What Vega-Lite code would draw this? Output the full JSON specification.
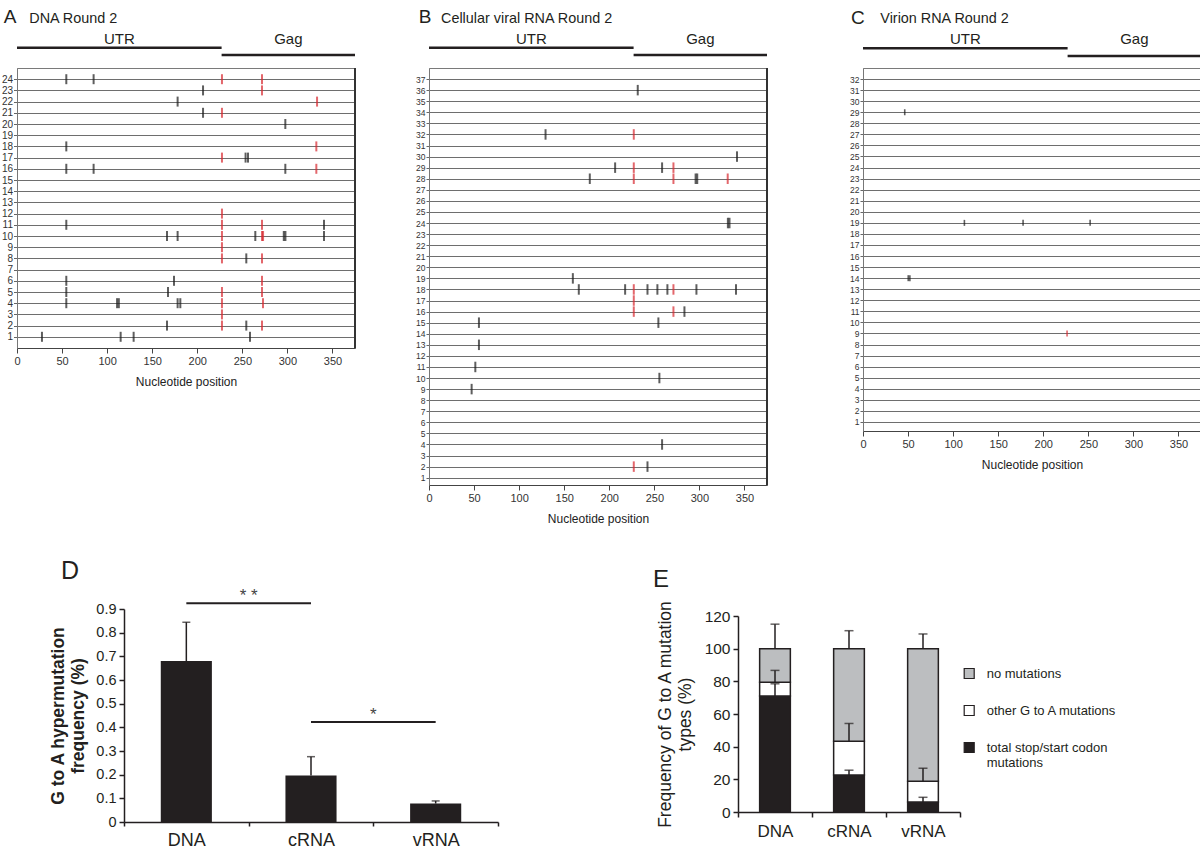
{
  "$schema": "https://vega.github.io/schema/vega-lite/v6.json",
  "autosize": {"type": "pad"},
  "padding": {"left": 0, "top": 7, "right": 0, "bottom": 0},
  "background": "white",
  "config": {
    "font": "Liberation Sans",
    "view": {"stroke": null},
    "title": {"font": "Liberation Sans", "fontWeight": "normal", "color": "#231f20"},
    "axis": {"labelFont": "Liberation Sans", "titleFont": "Liberation Sans", "labelOverlap": false, "labelFlush": false}
  },
  "datasets": {
    "mutA": [
      {"sequence": 24, "position": 54.7, "kind": "other"}, {"sequence": 24, "position": 85, "kind": "other"}, {"sequence": 24, "position": 227.4, "kind": "codon"}, {"sequence": 24, "position": 271.8, "kind": "codon"},
      {"sequence": 23, "position": 206.4, "kind": "other"}, {"sequence": 23, "position": 271.8, "kind": "codon"},
      {"sequence": 22, "position": 178.2, "kind": "other"}, {"sequence": 22, "position": 332.9, "kind": "codon"},
      {"sequence": 21, "position": 206.4, "kind": "other"}, {"sequence": 21, "position": 227.4, "kind": "codon"},
      {"sequence": 20, "position": 297.7, "kind": "other"},
      {"sequence": 18, "position": 54.7, "kind": "other"}, {"sequence": 18, "position": 332.1, "kind": "codon"},
      {"sequence": 17, "position": 227.4, "kind": "codon"}, {"sequence": 17, "position": 253.6, "kind": "other"}, {"sequence": 17, "position": 256.3, "kind": "other"},
      {"sequence": 16, "position": 54.7, "kind": "other"}, {"sequence": 16, "position": 85, "kind": "other"}, {"sequence": 16, "position": 297.7, "kind": "other"}, {"sequence": 16, "position": 332.1, "kind": "codon"},
      {"sequence": 12, "position": 227.4, "kind": "codon"},
      {"sequence": 11, "position": 54.7, "kind": "other"}, {"sequence": 11, "position": 227.4, "kind": "codon"}, {"sequence": 11, "position": 271.8, "kind": "codon"}, {"sequence": 11, "position": 340.6, "kind": "other"},
      {"sequence": 10, "position": 166.4, "kind": "other"}, {"sequence": 10, "position": 178.2, "kind": "other"}, {"sequence": 10, "position": 227.4, "kind": "codon"}, {"sequence": 10, "position": 264.4, "kind": "other"}, {"sequence": 10, "position": 271.8, "kind": "codon"}, {"sequence": 10, "position": 273, "kind": "codon"}, {"sequence": 10, "position": 296, "kind": "other"}, {"sequence": 10, "position": 297.8, "kind": "other"}, {"sequence": 10, "position": 340.6, "kind": "other"},
      {"sequence": 9, "position": 227.4, "kind": "codon"},
      {"sequence": 8, "position": 227.4, "kind": "codon"}, {"sequence": 8, "position": 254.4, "kind": "other"}, {"sequence": 8, "position": 271.8, "kind": "codon"},
      {"sequence": 6, "position": 54.7, "kind": "other"}, {"sequence": 6, "position": 174.2, "kind": "other"}, {"sequence": 6, "position": 271.8, "kind": "codon"},
      {"sequence": 5, "position": 54.7, "kind": "other"}, {"sequence": 5, "position": 167.5, "kind": "other"}, {"sequence": 5, "position": 227.4, "kind": "codon"}, {"sequence": 5, "position": 271.8, "kind": "codon"},
      {"sequence": 4, "position": 54.7, "kind": "other"}, {"sequence": 4, "position": 111, "kind": "other"}, {"sequence": 4, "position": 113, "kind": "other"}, {"sequence": 4, "position": 178.2, "kind": "other"}, {"sequence": 4, "position": 181.2, "kind": "other"}, {"sequence": 4, "position": 227.4, "kind": "codon"}, {"sequence": 4, "position": 272.9, "kind": "codon"},
      {"sequence": 3, "position": 227.4, "kind": "codon"},
      {"sequence": 2, "position": 166.4, "kind": "other"}, {"sequence": 2, "position": 227.4, "kind": "codon"}, {"sequence": 2, "position": 254.4, "kind": "other"}, {"sequence": 2, "position": 271.8, "kind": "codon"},
      {"sequence": 1, "position": 27.7, "kind": "other"}, {"sequence": 1, "position": 115, "kind": "other"}, {"sequence": 1, "position": 129.4, "kind": "other"}, {"sequence": 1, "position": 258.5, "kind": "other"}
    ],
    "mutB": [
      {"sequence": 36, "position": 231.6, "kind": "other"},
      {"sequence": 32, "position": 129.3, "kind": "other"}, {"sequence": 32, "position": 227.2, "kind": "codon"},
      {"sequence": 30, "position": 341.7, "kind": "other"},
      {"sequence": 29, "position": 206.5, "kind": "other"}, {"sequence": 29, "position": 227.2, "kind": "codon"}, {"sequence": 29, "position": 258.6, "kind": "other"}, {"sequence": 29, "position": 271.2, "kind": "codon"},
      {"sequence": 28, "position": 178.4, "kind": "other"}, {"sequence": 28, "position": 227.2, "kind": "codon"}, {"sequence": 28, "position": 271.2, "kind": "codon"}, {"sequence": 28, "position": 295.8, "kind": "other"}, {"sequence": 28, "position": 297.6, "kind": "other"}, {"sequence": 28, "position": 331.4, "kind": "codon"},
      {"sequence": 24, "position": 331.6, "kind": "other"}, {"sequence": 24, "position": 333.4, "kind": "other"},
      {"sequence": 19, "position": 159.6, "kind": "other"},
      {"sequence": 18, "position": 166.2, "kind": "other"}, {"sequence": 18, "position": 217.6, "kind": "other"}, {"sequence": 18, "position": 227.2, "kind": "codon"}, {"sequence": 18, "position": 242.4, "kind": "other"}, {"sequence": 18, "position": 253.4, "kind": "other"}, {"sequence": 18, "position": 264.5, "kind": "other"}, {"sequence": 18, "position": 271.2, "kind": "codon"}, {"sequence": 18, "position": 296.7, "kind": "other"}, {"sequence": 18, "position": 340.6, "kind": "other"},
      {"sequence": 17, "position": 227.2, "kind": "codon"},
      {"sequence": 16, "position": 227.2, "kind": "codon"}, {"sequence": 16, "position": 271.2, "kind": "codon"}, {"sequence": 16, "position": 283.4, "kind": "other"},
      {"sequence": 15, "position": 55.4, "kind": "other"}, {"sequence": 15, "position": 254.5, "kind": "other"},
      {"sequence": 13, "position": 55.4, "kind": "other"},
      {"sequence": 11, "position": 51.4, "kind": "other"},
      {"sequence": 10, "position": 255.6, "kind": "other"},
      {"sequence": 9, "position": 47.3, "kind": "other"},
      {"sequence": 4, "position": 258.6, "kind": "other"},
      {"sequence": 2, "position": 227.2, "kind": "codon"}, {"sequence": 2, "position": 242.4, "kind": "other"}
    ],
    "mutC": [
      {"sequence": 29, "position": 46.3, "kind": "other"},
      {"sequence": 19, "position": 112.5, "kind": "other"}, {"sequence": 19, "position": 177.6, "kind": "other"}, {"sequence": 19, "position": 252, "kind": "other"},
      {"sequence": 14, "position": 50.2, "kind": "other"}, {"sequence": 14, "position": 52, "kind": "other"},
      {"sequence": 9, "position": 226.4, "kind": "codon"}
    ],
    "regions": [
      {"region": "UTR", "start": 0, "end": 227},
      {"region": "Gag", "start": 227, "end": 375}
    ],
    "hyper": [
      {"sample": "DNA", "frequency": 0.68, "upper": 0.844},
      {"sample": "cRNA", "frequency": 0.197, "upper": 0.276},
      {"sample": "vRNA", "frequency": 0.078, "upper": 0.089}
    ],
    "sig": [
      {"from": "DNA", "to": "cRNA", "level": 0.924, "label": "* *"},
      {"from": "cRNA", "to": "vRNA", "level": 0.4225, "label": "*"}
    ],
    "types": [
      {"sample": "DNA", "type": "total stop/start codon mutations", "low": 0, "high": 71, "errHigh": 78.5},
      {"sample": "DNA", "type": "other G to A mutations", "low": 71, "high": 79.5, "errHigh": 86.7},
      {"sample": "DNA", "type": "no mutations", "low": 79.5, "high": 100, "errHigh": 115},
      {"sample": "cRNA", "type": "total stop/start codon mutations", "low": 0, "high": 22.7, "errHigh": 25.6},
      {"sample": "cRNA", "type": "other G to A mutations", "low": 22.7, "high": 43.3, "errHigh": 54.2},
      {"sample": "cRNA", "type": "no mutations", "low": 43.3, "high": 100, "errHigh": 111},
      {"sample": "vRNA", "type": "total stop/start codon mutations", "low": 0, "high": 6.1, "errHigh": 9},
      {"sample": "vRNA", "type": "other G to A mutations", "low": 6.1, "high": 18.8, "errHigh": 26.8},
      {"sample": "vRNA", "type": "no mutations", "low": 18.8, "high": 100, "errHigh": 109}
    ]
  },
  "columns": 3,
  "spacing": {"row": 124, "column": 74},
  "align": "each",
  "bounds": "flush",
  "concat": [
    {
      "width": 338, "height": 280,
      "view": {"stroke": "#7a7a7a", "strokeWidth": 1},
      "layer": [
        {
          "data": {"name": "mutA"},
          "mark": {"type": "tick", "orient": "vertical", "size": 10, "thickness": 2},
          "encoding": {
            "x": {"field": "position", "type": "quantitative", "title": "Nucleotide position",
              "scale": {"domain": [0, 375], "nice": false, "zero": false},
              "axis": {"values": [0, 50, 100, 150, 200, 250, 300, 350], "format": "d", "tickCount": 20, "tickSize": 5, "labelFontSize": 11, "labelColor": "#333333", "titleFontSize": 12, "titleFontWeight": "normal", "titleColor": "#222222", "titlePadding": 10, "domainColor": "#444444", "tickColor": "#444444", "grid": false}},
            "y": {"field": "sequence", "type": "quantitative", "title": null,
              "scale": {"domain": [0, 25], "nice": false, "zero": false},
              "axis": {"values": [1,2,3,4,5,6,7,8,9,10,11,12,13,14,15,16,17,18,19,20,21,22,23,24], "format": "d", "tickCount": 60, "grid": true, "gridColor": "#6e6e6e", "gridWidth": 1, "tickSize": 3.5, "labelPadding": 1, "labelFontSize": 10, "labelColor": "#333333", "domainColor": "#777777", "tickColor": "#666666"}},
            "color": {"field": "kind", "type": "nominal", "scale": {"domain": ["other", "codon"], "range": ["#1a1a1a", "#d7262d"]}, "legend": null}
          }
        },
        {
          "data": {"values": [{}]},
          "mark": {"type": "rule", "color": "#333333", "strokeWidth": 2},
          "encoding": {"x": {"datum": 375}}
        },
        {
          "data": {"name": "regions"},
          "transform": [{"filter": "datum.region == 'UTR'"}],
          "mark": {"type": "rule", "color": "#231f20", "strokeWidth": 2.5},
          "encoding": {"x": {"field": "start", "type": "quantitative", "title": "Nucleotide position"}, "x2": {"field": "end"}, "y": {"datum": 26.81}}
        },
        {
          "data": {"name": "regions"},
          "transform": [{"filter": "datum.region == 'Gag'"}],
          "mark": {"type": "rule", "color": "#231f20", "strokeWidth": 2.5},
          "encoding": {"x": {"field": "start", "type": "quantitative", "title": "Nucleotide position"}, "x2": {"field": "end"}, "y": {"datum": 26.16}}
        },
        {
          "data": {"name": "regions"},
          "transform": [{"fold": ["start", "end"]}, {"aggregate": [{"op": "mean", "field": "value", "as": "mid"}], "groupby": ["region"]}],
          "mark": {"type": "text", "fontSize": 15, "baseline": "alphabetic", "color": "#231f20"},
          "encoding": {"x": {"field": "mid", "type": "quantitative", "title": "Nucleotide position"}, "y": {"datum": 27.12}, "text": {"field": "region"}}
        },
        {
          "data": {"values": [{"letter": "A", "name": "DNA Round 2"}]},
          "mark": {"type": "text", "fontSize": 19, "align": "left", "baseline": "alphabetic", "color": "#231f20"},
          "encoding": {"x": {"datum": -14.8}, "y": {"datum": 28.99}, "text": {"field": "letter"}}
        },
        {
          "data": {"values": [{"letter": "A", "name": "DNA Round 2"}]},
          "mark": {"type": "text", "fontSize": 14.4, "align": "left", "baseline": "alphabetic", "color": "#231f20"},
          "encoding": {"x": {"datum": 13.6}, "y": {"datum": 29.04}, "text": {"field": "name"}}
        }
      ]
    },
    {
      "width": 338, "height": 417,
      "view": {"stroke": "#7a7a7a", "strokeWidth": 1},
      "layer": [
        {
          "data": {"name": "mutB"},
          "mark": {"type": "tick", "orient": "vertical", "size": 10.5, "thickness": 2},
          "encoding": {
            "x": {"field": "position", "type": "quantitative", "title": "Nucleotide position",
              "scale": {"domain": [0, 375], "nice": false, "zero": false},
              "axis": {"values": [0, 50, 100, 150, 200, 250, 300, 350], "format": "d", "tickCount": 20, "tickSize": 5, "labelFontSize": 11, "labelColor": "#333333", "titleFontSize": 12, "titleFontWeight": "normal", "titleColor": "#222222", "titlePadding": 10, "domainColor": "#444444", "tickColor": "#444444", "grid": false}},
            "y": {"field": "sequence", "type": "quantitative", "title": null,
              "scale": {"domain": [0.34, 38], "nice": false, "zero": false},
              "axis": {"values": [1,2,3,4,5,6,7,8,9,10,11,12,13,14,15,16,17,18,19,20,21,22,23,24,25,26,27,28,29,30,31,32,33,34,35,36,37], "format": "d", "tickCount": 80, "grid": true, "gridColor": "#6e6e6e", "gridWidth": 1, "tickSize": 3, "labelPadding": 1, "labelFontSize": 8.5, "labelColor": "#333333", "domainColor": "#777777", "tickColor": "#666666"}},
            "color": {"field": "kind", "type": "nominal", "scale": {"domain": ["other", "codon"], "range": ["#1a1a1a", "#d7262d"]}, "legend": null}
          }
        },
        {
          "data": {"values": [{}]},
          "mark": {"type": "rule", "color": "#333333", "strokeWidth": 2},
          "encoding": {"x": {"datum": 375}}
        },
        {
          "data": {"name": "regions"},
          "transform": [{"filter": "datum.region == 'UTR'"}],
          "mark": {"type": "rule", "color": "#231f20", "strokeWidth": 2.5},
          "encoding": {"x": {"field": "start", "type": "quantitative", "title": "Nucleotide position"}, "x2": {"field": "end"}, "y": {"datum": 39.83}}
        },
        {
          "data": {"name": "regions"},
          "transform": [{"filter": "datum.region == 'Gag'"}],
          "mark": {"type": "rule", "color": "#231f20", "strokeWidth": 2.5},
          "encoding": {"x": {"field": "start", "type": "quantitative", "title": "Nucleotide position"}, "x2": {"field": "end"}, "y": {"datum": 39.17}}
        },
        {
          "data": {"name": "regions"},
          "transform": [{"fold": ["start", "end"]}, {"aggregate": [{"op": "mean", "field": "value", "as": "mid"}], "groupby": ["region"]}],
          "mark": {"type": "text", "fontSize": 15, "baseline": "alphabetic", "color": "#231f20"},
          "encoding": {"x": {"field": "mid", "type": "quantitative", "title": "Nucleotide position"}, "y": {"datum": 40.14}, "text": {"field": "region"}}
        },
        {
          "data": {"values": [{"letter": "B", "name": "Cellular viral RNA Round 2"}]},
          "mark": {"type": "text", "fontSize": 19, "align": "left", "baseline": "alphabetic", "color": "#231f20"},
          "encoding": {"x": {"datum": -11.4}, "y": {"datum": 42.04}, "text": {"field": "letter"}}
        },
        {
          "data": {"values": [{"letter": "B", "name": "Cellular viral RNA Round 2"}]},
          "mark": {"type": "text", "fontSize": 14.4, "align": "left", "baseline": "alphabetic", "color": "#231f20"},
          "encoding": {"x": {"datum": 13.3}, "y": {"datum": 42.09}, "text": {"field": "name"}}
        }
      ]
    },
    {
      "width": 338, "height": 363,
      "view": {"stroke": "#7a7a7a", "strokeWidth": 1},
      "layer": [
        {
          "data": {"name": "mutC"},
          "mark": {"type": "tick", "orient": "vertical", "size": 6, "thickness": 1.6},
          "encoding": {
            "x": {"field": "position", "type": "quantitative", "title": "Nucleotide position",
              "scale": {"domain": [0, 375], "nice": false, "zero": false},
              "axis": {"values": [0, 50, 100, 150, 200, 250, 300, 350], "format": "d", "tickCount": 20, "tickSize": 5, "labelFontSize": 11, "labelColor": "#333333", "titleFontSize": 12, "titleFontWeight": "normal", "titleColor": "#222222", "titlePadding": 10, "domainColor": "#444444", "tickColor": "#444444", "grid": false}},
            "y": {"field": "sequence", "type": "quantitative", "title": null,
              "scale": {"domain": [0.185, 33], "nice": false, "zero": false},
              "axis": {"values": [1,2,3,4,5,6,7,8,9,10,11,12,13,14,15,16,17,18,19,20,21,22,23,24,25,26,27,28,29,30,31,32], "format": "d", "tickCount": 70, "grid": true, "gridColor": "#6e6e6e", "gridWidth": 1, "tickSize": 3, "labelPadding": 1, "labelFontSize": 8.5, "labelColor": "#333333", "domainColor": "#777777", "tickColor": "#666666"}},
            "color": {"field": "kind", "type": "nominal", "scale": {"domain": ["other", "codon"], "range": ["#1a1a1a", "#d7262d"]}, "legend": null}
          }
        },
        {
          "data": {"values": [{}]},
          "mark": {"type": "rule", "color": "#333333", "strokeWidth": 2},
          "encoding": {"x": {"datum": 375}}
        },
        {
          "data": {"name": "regions"},
          "transform": [{"filter": "datum.region == 'UTR'"}],
          "mark": {"type": "rule", "color": "#231f20", "strokeWidth": 2.5},
          "encoding": {"x": {"field": "start", "type": "quantitative", "title": "Nucleotide position"}, "x2": {"field": "end"}, "y": {"datum": 34.78}}
        },
        {
          "data": {"name": "regions"},
          "transform": [{"filter": "datum.region == 'Gag'"}],
          "mark": {"type": "rule", "color": "#231f20", "strokeWidth": 2.5},
          "encoding": {"x": {"field": "start", "type": "quantitative", "title": "Nucleotide position"}, "x2": {"field": "end"}, "y": {"datum": 34.08}}
        },
        {
          "data": {"name": "regions"},
          "transform": [{"fold": ["start", "end"]}, {"aggregate": [{"op": "mean", "field": "value", "as": "mid"}], "groupby": ["region"]}],
          "mark": {"type": "text", "fontSize": 15, "baseline": "alphabetic", "color": "#231f20"},
          "encoding": {"x": {"field": "mid", "type": "quantitative", "title": "Nucleotide position"}, "y": {"datum": 35.2}, "text": {"field": "region"}}
        },
        {
          "data": {"values": [{"letter": "C", "name": "Virion RNA Round 2"}]},
          "mark": {"type": "text", "fontSize": 19, "align": "left", "baseline": "alphabetic", "color": "#231f20"},
          "encoding": {"x": {"datum": -13.3}, "y": {"datum": 37.0}, "text": {"field": "letter"}}
        },
        {
          "data": {"values": [{"letter": "C", "name": "Virion RNA Round 2"}]},
          "mark": {"type": "text", "fontSize": 14.4, "align": "left", "baseline": "alphabetic", "color": "#231f20"},
          "encoding": {"x": {"datum": 19.2}, "y": {"datum": 37.1}, "text": {"field": "name"}}
        }
      ]
    },
    {
      "width": 338, "height": 213,
      "view": {"stroke": null},
      "title": {"text": "D", "anchor": "start", "frame": "group", "fontSize": 25, "fontWeight": "normal", "color": "#231f20", "dx": 44, "offset": -17, "baseline": "alphabetic"},
      "layer": [
        {
          "data": {"name": "hyper"},
          "mark": {"type": "bar", "color": "#231f20", "width": {"band": 0.41}},
          "encoding": {
            "x": {"field": "sample", "type": "nominal", "title": null,
              "scale": {"domain": ["DNA", "cRNA", "vRNA"], "range": [107, 481], "paddingInner": 0, "paddingOuter": 0},
              "axis": {"labelAngle": 0, "labelFontSize": 18, "labelColor": "#231f20", "labelPadding": 5, "tickBand": "extent", "tickSize": 4, "tickWidth": 1.5, "tickColor": "#231f20", "domainColor": "#231f20", "domainWidth": 1.5}},
            "y": {"field": "frequency", "type": "quantitative",
              "scale": {"domain": [0, 0.9], "nice": false},
              "axis": {"offset": -107, "values": [0, 0.1, 0.2, 0.3, 0.4, 0.5, 0.6, 0.7, 0.8, 0.9], "format": "~g", "tickCount": 30, "title": ["G to A hypermutation", "frequency (%)"], "titleFontSize": 17.5, "titleFontWeight": "bold", "titleColor": "#231f20", "titleLineHeight": 20, "titlePadding": 8, "labelFontSize": 14.5, "labelColor": "#231f20", "labelPadding": 3, "tickSize": 5, "tickWidth": 1.5, "tickColor": "#231f20", "domainColor": "#231f20", "domainWidth": 1.5, "grid": false}}
          }
        },
        {
          "data": {"name": "hyper"},
          "mark": {"type": "rule", "color": "#231f20", "strokeWidth": 1.5},
          "encoding": {"x": {"field": "sample", "type": "nominal"}, "y": {"field": "frequency", "type": "quantitative"}, "y2": {"field": "upper"}}
        },
        {
          "data": {"name": "hyper"},
          "mark": {"type": "tick", "orient": "horizontal", "color": "#231f20", "size": 8, "thickness": 1.5},
          "encoding": {"x": {"field": "sample", "type": "nominal"}, "y": {"field": "upper", "type": "quantitative"}}
        },
        {
          "data": {"name": "sig"},
          "mark": {"type": "rule", "color": "#231f20", "strokeWidth": 2},
          "encoding": {"x": {"field": "from", "type": "nominal"}, "x2": {"field": "to"}, "y": {"field": "level", "type": "quantitative"}}
        },
        {
          "data": {"name": "sig"},
          "mark": {"type": "text", "fontSize": 17, "baseline": "alphabetic", "dy": -2, "color": "#444444"},
          "encoding": {"x": {"field": "from", "type": "nominal", "bandPosition": 1}, "y": {"field": "level", "type": "quantitative"}, "text": {"field": "label"}}
        }
      ]
    },
    {
      "width": 360, "height": 203,
      "view": {"stroke": null},
      "title": {"text": "E", "anchor": "start", "frame": "group", "fontSize": 24, "fontWeight": "normal", "color": "#231f20", "dx": 224, "offset": -11, "baseline": "alphabetic"},
      "layer": [
        {
          "data": {"name": "types"},
          "mark": {"type": "bar", "stroke": "#231f20", "strokeWidth": 1.5, "width": {"band": 0.415}},
          "encoding": {
            "x": {"field": "sample", "type": "nominal", "title": null,
              "scale": {"domain": ["DNA", "cRNA", "vRNA"], "range": [309, 531], "paddingInner": 0, "paddingOuter": 0},
              "axis": {"labelAngle": 0, "labelFontSize": 17, "labelColor": "#231f20", "labelPadding": 6, "tickBand": "extent", "tickSize": 5, "tickWidth": 1.5, "tickColor": "#231f20", "domainColor": "#231f20", "domainWidth": 1.5}},
            "y": {"field": "high", "type": "quantitative",
              "scale": {"domain": [0, 120], "range": [203, 7], "nice": false},
              "axis": {"offset": -309, "values": [0, 20, 40, 60, 80, 100, 120], "format": "d", "tickCount": 30, "title": ["Frequency of G to A mutation", "types (%)"], "titleFontSize": 17.5, "titleFontWeight": "normal", "titleColor": "#231f20", "titleLineHeight": 20, "titlePadding": 10, "labelFontSize": 15.5, "labelColor": "#231f20", "labelPadding": 3, "tickSize": 5, "tickWidth": 1.5, "tickColor": "#231f20", "domainColor": "#231f20", "domainWidth": 1.5, "grid": false}},
            "y2": {"field": "low"},
            "fill": {"field": "type", "type": "nominal",
              "scale": {"domain": ["no mutations", "other G to A mutations", "total stop/start codon mutations"], "range": ["#bcbec0", "#ffffff", "#231f20"]},
              "legend": {"title": null, "orient": "none", "legendX": 945.7, "legendY": 599, "padding": 0, "symbolType": "square", "symbolSize": 100, "symbolStrokeColor": "#231f20", "symbolStrokeWidth": 1.2, "labelFontSize": 13, "labelColor": "#231f20", "labelOffset": 11, "rowPadding": 22, "labelLimit": 250,
                "labelExpr": "datum.label == 'total stop/start codon mutations' ? ['total stop/start codon', 'mutations'] : datum.label"}}
          }
        },
        {
          "data": {"name": "types"},
          "mark": {"type": "rule", "color": "#231f20", "strokeWidth": 1.5},
          "encoding": {"x": {"field": "sample", "type": "nominal"}, "y": {"field": "high", "type": "quantitative"}, "y2": {"field": "errHigh"}}
        },
        {
          "data": {"name": "types"},
          "mark": {"type": "tick", "orient": "horizontal", "color": "#231f20", "size": 9, "thickness": 1.5},
          "encoding": {"x": {"field": "sample", "type": "nominal"}, "y": {"field": "errHigh", "type": "quantitative"}}
        }
      ]
    }
  ]
}
